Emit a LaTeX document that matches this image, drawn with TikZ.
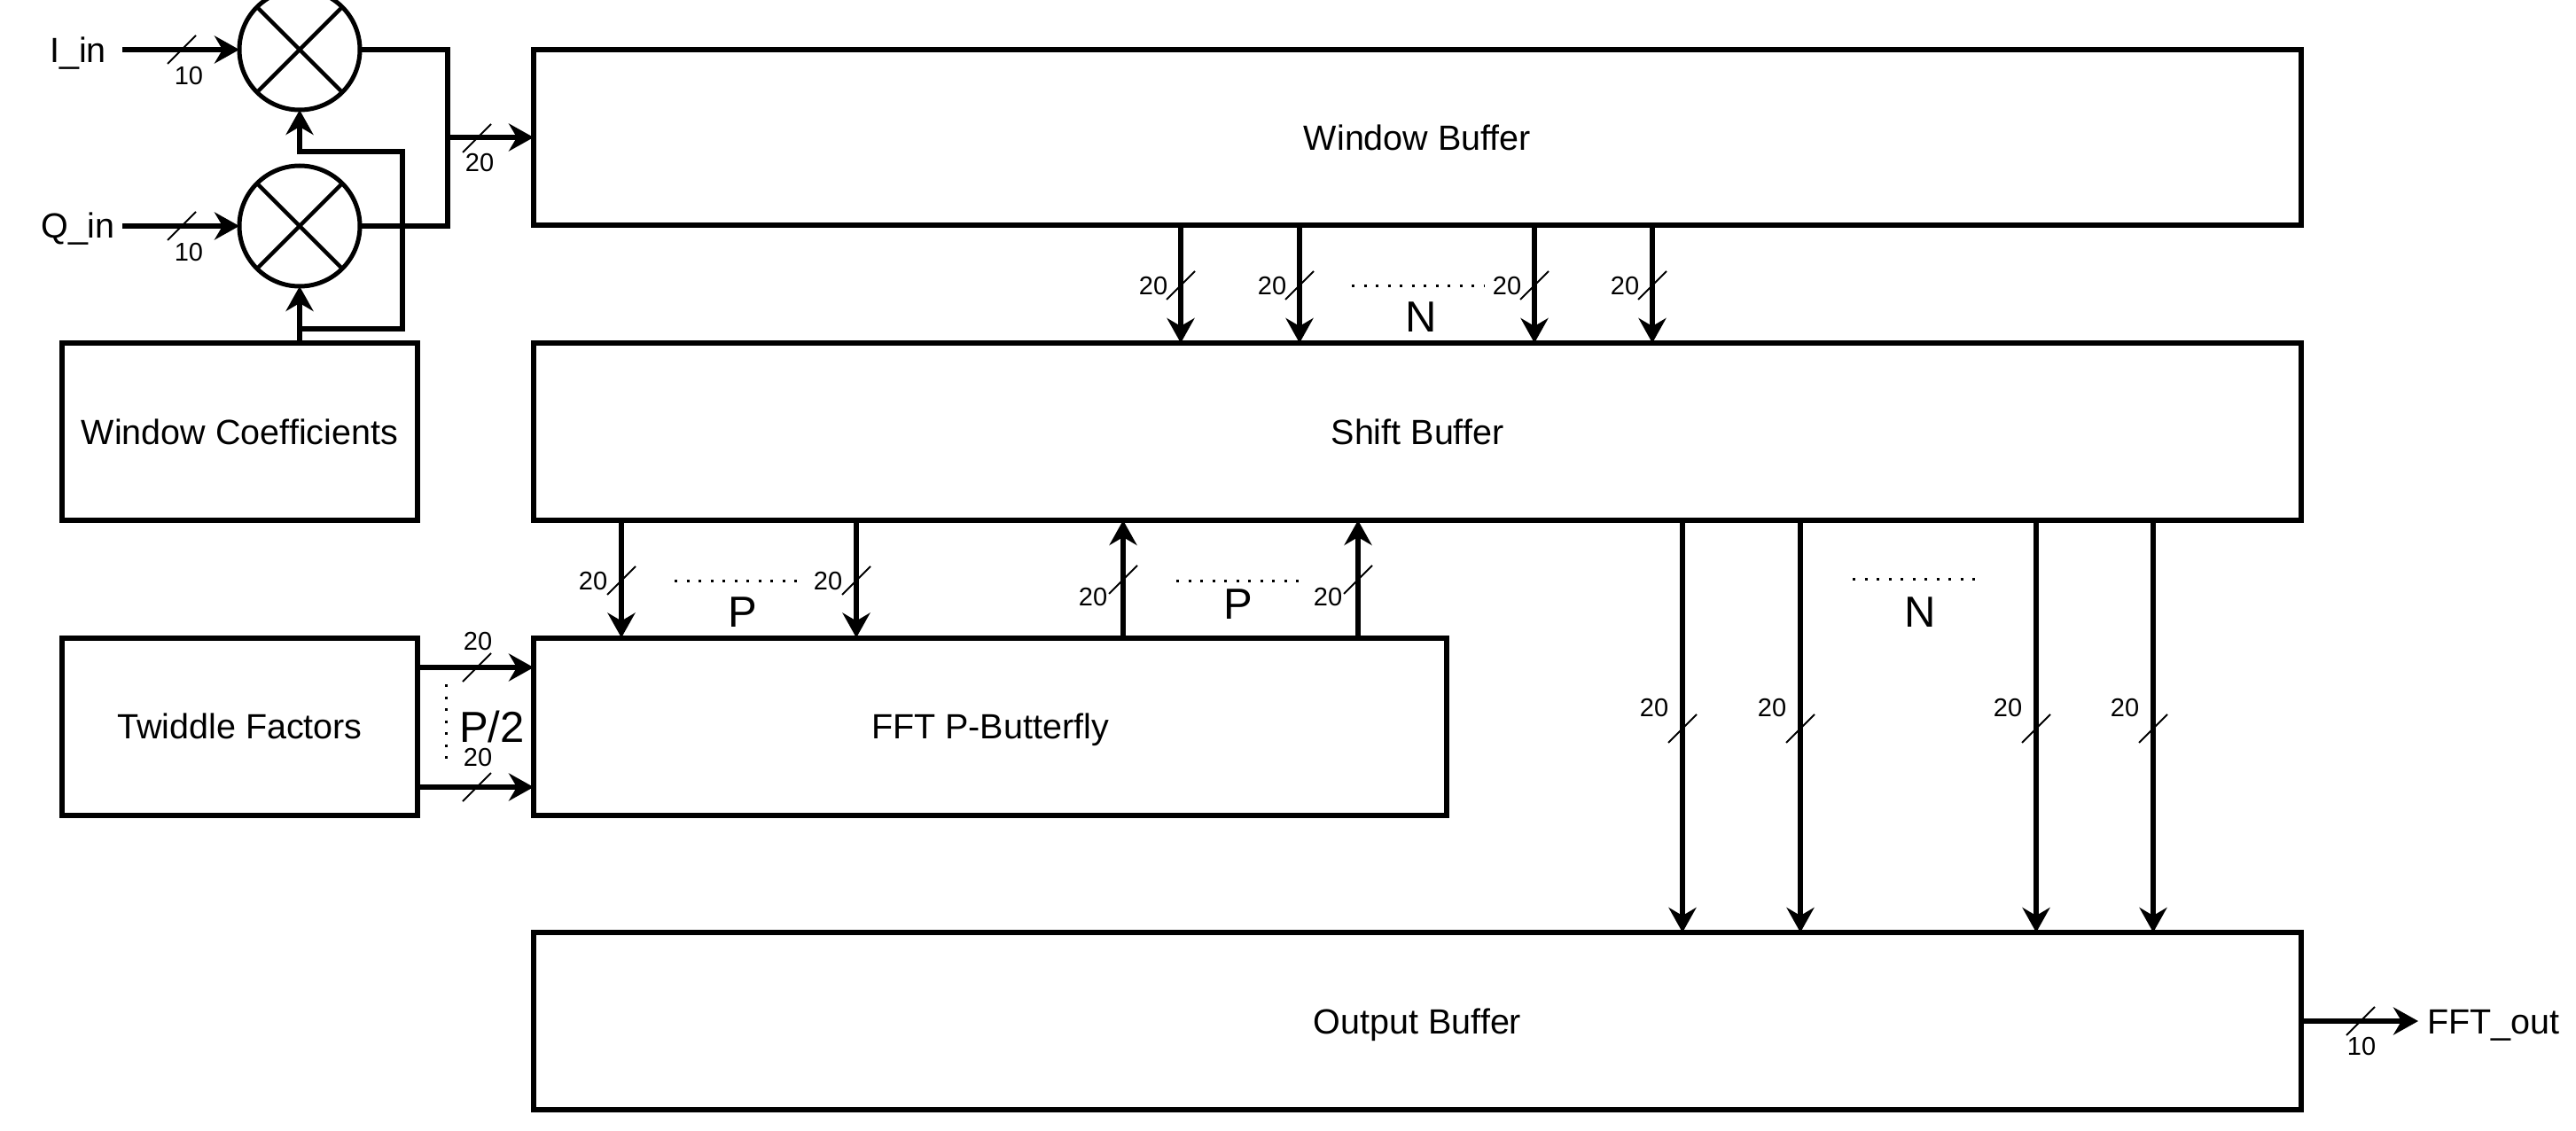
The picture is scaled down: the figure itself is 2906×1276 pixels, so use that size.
\documentclass[tikz,border=0pt]{standalone}
\usepackage{fontspec}
\setmainfont{Liberation Sans}
\usetikzlibrary{arrows.meta}
\begin{document}
\begin{tikzpicture}[x=1pt,y=-1pt,
  box/.style={draw, line width=6pt, rectangle, inner sep=0pt, outer sep=0pt, font=\fontsize{39.5}{47}\selectfont, text height=28.3pt, text depth=0pt},
  mult/.style={draw, circle, line width=5pt, minimum size=136pt, inner sep=0pt, outer sep=0pt},
  arr/.style={line width=6pt, -{Stealth[length=28pt,width=31pt,inset=9pt]}},
  wire/.style={line width=6pt},
  slash/.style={line width=2pt},
  dots/.style={line width=3pt, dash pattern=on 3pt off 10.5pt},
  lab/.style={font=\fontsize{29}{35}\selectfont, text height=20.8pt, text depth=0pt, inner sep=0pt},
  big/.style={font=\fontsize{49}{58}\selectfont, text height=35pt, text depth=0pt, inner sep=0pt},
  txt/.style={font=\fontsize{39.5}{47}\selectfont, text height=28.3pt, text depth=0pt, inner sep=0pt},
]
\useasboundingbox (0,0) rectangle (2906,1276);
\clip (0,0) rectangle (2906,1276);

% blocks
\node[box, minimum width=1994pt, minimum height=198pt] (wb) at (1599,155) {Window Buffer};
\node[box, minimum width=1994pt, minimum height=200pt] (sb) at (1599,487) {Shift Buffer};
\node[box, minimum width=401pt, minimum height=200pt] (wc) at (270.5,487) {Window Coefficients};
\node[box, minimum width=401pt, minimum height=200pt] (tf) at (270.5,819.5) {Twiddle Factors};
\node[box, minimum width=1030pt, minimum height=200pt] (fft) at (1117,819.5) {FFT P-Butterfly};
\node[box, minimum width=1994pt, minimum height=200pt] (ob) at (1599,1152) {Output Buffer};

% multipliers
\node[mult] (m1) at (338,56) {};
\node[mult] (m2) at (338,255) {};
\draw[line width=4.5pt] (m1.45) -- (m1.225) (m1.135) -- (m1.315);
\draw[line width=4.5pt] (m2.45) -- (m2.225) (m2.135) -- (m2.315);

% inputs
\node[txt] (iin) at (88,56) {I\_in};
\node[txt] (qin) at (88,254) {Q\_in};
\coordinate (is) at (138,56);
\coordinate (qs) at (138,255);
\draw[arr] (is) -- (m1.west);
\draw[arr] (qs) -- (m2.west);
\draw[slash] (189,72) -- (221,40);
\draw[slash] (189,271) -- (221,239);
\node[lab] (l10a) at (213,85) {10};
\node[lab] (l10b) at (213,284) {10};

% multiplier outputs to window buffer
\coordinate (jn) at (505,155);
\draw[wire] (m1.east) -| (jn) |- (m2.east);
\draw[arr] (jn) -- (wb.west);
\draw[slash] (522,172) -- (554,140);
\node[lab] (l20in) at (541,183) {20};

% window coefficient feeds
\coordinate (f1) at (454,371);
\coordinate (f2) at (454,171);
\draw[arr] (m2 |- wc.north) -- (m2.south);
\draw[arr] (m2 |- f1) -- (f1) -- (f2) -- (m2 |- f2) -- (m1.south);

% window buffer -> shift buffer
\foreach \x/\n in {1332/a1,1466/a2,1731/a3,1864/a4}{
  \coordinate (\n) at (\x,0);
  \draw[arr] (wb.south -| \n) -- (sb.north -| \n);
  \draw[slash] (\x-16,338) -- (\x+16,306);
  \node[lab] (l\n) at (\x-31,322) {20};
}
\draw[dots] (1525,322) -- (1674,322);
\node[big] (n1) at (1603,357) {N};

% shift buffer <-> FFT
\foreach \x/\n in {701/b1,966/b2}{
  \coordinate (\n) at (\x,0);
  \draw[arr] (sb.south -| \n) -- (fft.north -| \n);
  \draw[slash] (\x-16,671) -- (\x+16,639);
  \node[lab] (l\n) at (\x-32,655) {20};
}
\foreach \x/\n in {1267/b3,1532/b4}{
  \coordinate (\n) at (\x,0);
  \draw[arr] (fft.north -| \n) -- (sb.south -| \n);
  \draw[slash] (\x-16,670) -- (\x+16,638);
  \node[lab] (l\n) at (\x-34,673) {20};
}
\draw[dots] (761,655) -- (908,655);
\node[big] (p1) at (838,690) {P};
\draw[dots] (1327,655) -- (1474,655);
\node[big] (p2) at (1397,681) {P};

% shift buffer -> output buffer
\foreach \x/\n in {1898/c1,2031/c2,2297/c3,2429/c4}{
  \coordinate (\n) at (\x,0);
  \draw[arr] (sb.south -| \n) -- (ob.north -| \n);
  \draw[slash] (\x-16,838) -- (\x+16,806);
  \node[lab] (l\n) at (\x-32,798) {20};
}
\draw[dots] (2090,653) -- (2238,653);
\node[big] (n2) at (2166,690) {N};

% twiddle factors -> FFT
\coordinate (t1) at (0,753);
\coordinate (t2) at (0,888);
\draw[arr] (tf.east |- t1) -- (fft.west |- t1);
\draw[arr] (tf.east |- t2) -- (fft.west |- t2);
\draw[slash] (522,769) -- (554,737);
\draw[slash] (522,904) -- (554,872);
\node[lab] (lt1) at (539,723) {20};
\node[lab] (lt2) at (539,854) {20};
\draw[dots] (503,772) -- (503,865);
\node[big] (p3) at (555,820) {P/2};

% output
\node[txt, anchor=west, inner xsep=10pt] (fo) at (2728,1152) {FFT\_out};
\draw[arr] (ob.east) -- (fo.west);
\draw[slash] (2647,1168) -- (2679,1136);
\node[lab] (l10o) at (2664,1180) {10};
\end{tikzpicture}
\end{document}
